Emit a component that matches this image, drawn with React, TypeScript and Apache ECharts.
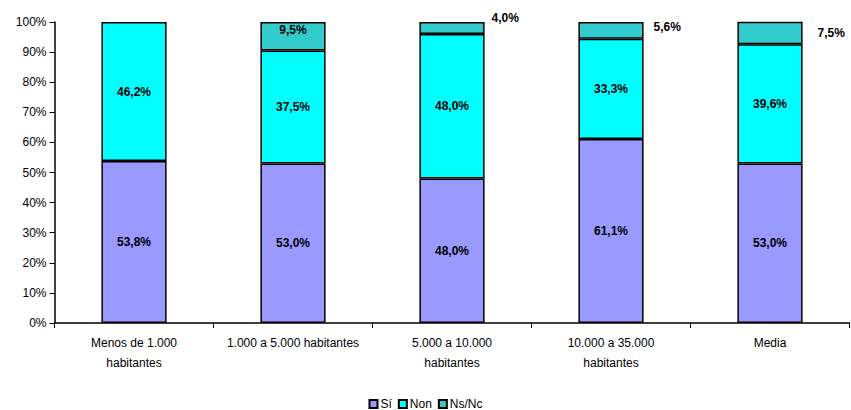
import React, { useEffect, useRef } from "react";
import * as echarts from "echarts";

const categories = [
  "Menos de 1.000\nhabitantes",
  "1.000 a 5.000 habitantes",
  "5.000 a 10.000\nhabitantes",
  "10.000 a 35.000\nhabitantes",
  "Media",
];
const si = [53.8, 53.0, 48.0, 61.1, 53.0];
const non = [46.2, 37.5, 48.0, 33.3, 39.6];
const nsnc = [null, 9.5, 4.0, 5.6, 7.5];
const yTicks = [0, 10, 20, 30, 40, 50, 60, 70, 80, 90, 100];

const fmt = (v: number) => v.toFixed(1).replace(".", ",") + "%";

export default function App() {
  const ref = useRef<HTMLDivElement>(null);
  useEffect(() => {
    if (!ref.current) return;
    const chart = echarts.init(ref.current, null, { renderer: "svg" });
    const font = "Liberation Sans, Arial, sans-serif";
    const labelBase = {
      show: true,
      color: "#000",
      fontWeight: "bold" as const,
      fontSize: 12,
      fontFamily: font,
      formatter: (p: any) => fmt(p.value),
    };
    const nsLabelCfg = [
      { show: false },
      { position: "inside", offset: [0, -6] },
      { position: "right", offset: [2, -10] },
      { position: "right", offset: [5, -3] },
      { position: "right", offset: [10, 0] },
    ];
    chart.setOption({
      animation: false,
      grid: { left: 54.5, right: 1.5, top: 22, bottom: 87 },
      legend: {
        top: 398,
        left: "center",
        icon: "rect",
        itemWidth: 8,
        itemHeight: 8,
        itemGap: 6,
        padding: 0,
        textStyle: { fontSize: 12, fontFamily: font, color: "#000", padding: [0, 0, 0, -2] },
        data: ["Sí", "Non", "Ns/Nc"],
      },
      xAxis: {
        type: "category",
        data: categories,
        axisLine: { lineStyle: { color: "#000", width: 1.5 } },
        axisTick: { show: true, alignWithLabel: false, length: 5, lineStyle: { color: "#000" } },
        axisLabel: {
          color: "#000",
          fontSize: 12,
          fontFamily: font,
          lineHeight: 20,
          margin: 10,
          interval: 0,
        },
      },
      yAxis: {
        type: "value",
        min: 0,
        max: 100,
        interval: 10,
        splitLine: { show: false },
        axisLine: { show: true, lineStyle: { color: "#000", width: 1.5 } },
        axisTick: { show: true, length: 5, lineStyle: { color: "#000" } },
        axisLabel: {
          color: "#000",
          fontSize: 12,
          fontFamily: font,
          margin: 8,
          formatter: (v: number) => (yTicks.includes(v) ? v + "%" : ""),
        },
      },
      series: [
        {
          name: "Sí",
          type: "bar",
          stack: "total",
          barWidth: "41%",
          data: si,
          itemStyle: { color: "#9999FF", borderColor: "#000", borderWidth: 1.5 },
          label: { ...labelBase, position: "inside" },
        },
        {
          name: "Non",
          type: "bar",
          stack: "total",
          data: non,
          itemStyle: { color: "#00FFFF", borderColor: "#000", borderWidth: 1.5 },
          label: { ...labelBase, position: "inside" },
        },
        {
          name: "Ns/Nc",
          type: "bar",
          stack: "total",
          data: nsnc.map((v, i) => ({ value: v, label: nsLabelCfg[i] })),
          itemStyle: { color: "#33CCCC", borderColor: "#000", borderWidth: 1.5 },
          label: { ...labelBase },
        },
      ],
    });
    return () => chart.dispose();
  }, []);
  return <div ref={ref} style={{ width: 851, height: 410, position: "absolute", left: 0, top: 0 }} />;
}
